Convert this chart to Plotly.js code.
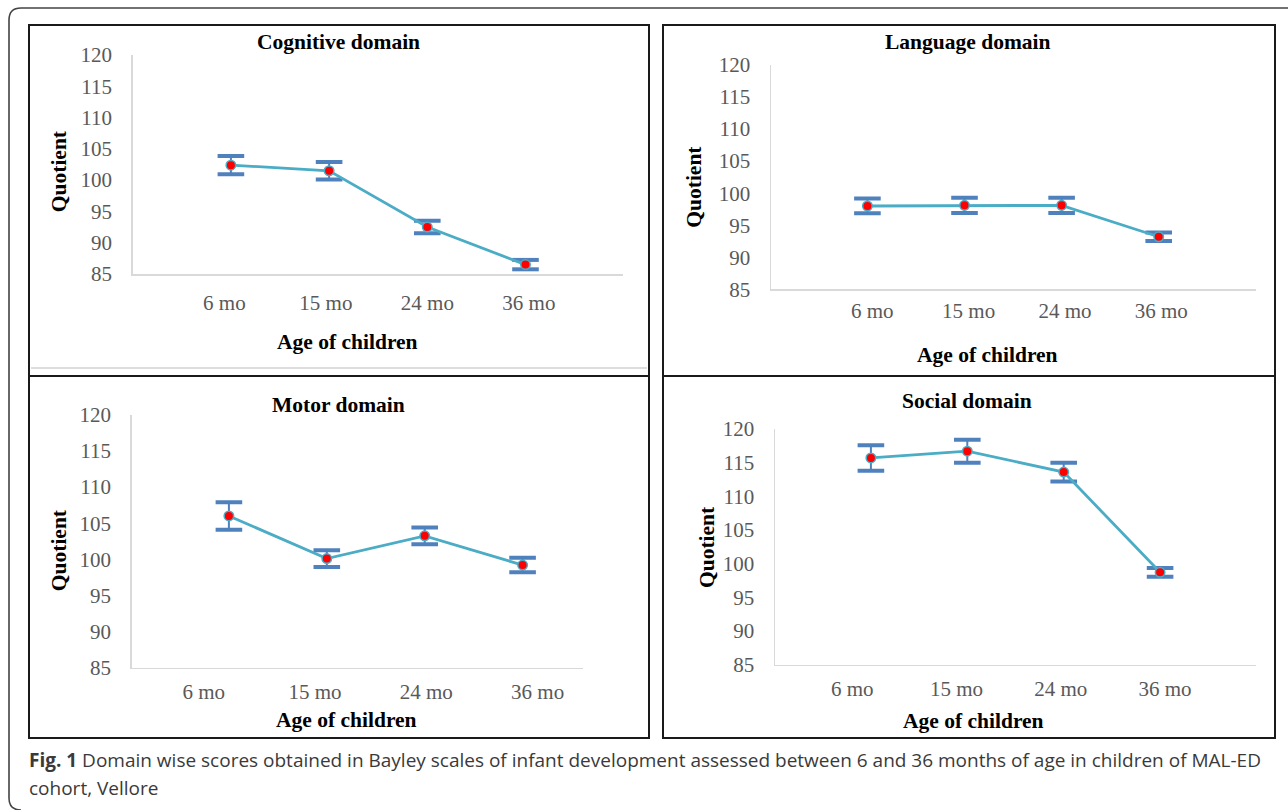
<!DOCTYPE html>
<html><head><meta charset="utf-8">
<script src="https://cdn.plot.ly/plotly-3.0.1.min.js"></script>
<style>html,body{margin:0;padding:0;background:#fff;} #chart{width:1288px;height:810px;}</style>
</head><body><div id="chart"></div>
<script>
// ---------- data ----------
const categories = ['6 mo', '15 mo', '24 mo', '36 mo'];
const yTickVals = [85, 90, 95, 100, 105, 110, 115, 120];

const cognitiveMean = [102.4, 101.5, 92.5, 86.5];
const cognitiveErr  = [1.45, 1.4, 1.0, 0.75];
const languageMean  = [98.0, 98.1, 98.1, 93.2];
const languageErr   = [1.15, 1.2, 1.2, 0.65];
const motorMean     = [106.0, 100.1, 103.25, 99.2];
const motorErr      = [1.9, 1.15, 1.15, 1.0];
const socialMean    = [115.7, 116.7, 113.6, 98.7];
const socialErr     = [1.9, 1.7, 1.4, 0.65];

const domainTitles = ['Cognitive domain', 'Language domain', 'Motor domain', 'Social domain'];
const xTitle = 'Age of children';
const yTitle = 'Quotient';
const captionBold = 'Fig. 1';
const captionLine1 = ' Domain wise scores obtained in Bayley scales of infant development assessed between 6 and 36 months of age in children of MAL-ED';
const captionLine2 = 'cohort, Vellore';

// ---------- layout helpers ----------
const W = 1288, H = 810;
const fx = p => p / W;
const fy = p => 1 - p / H;

const panels = [
  {mean: cognitiveMean, err: cognitiveErr, xd: [132.8, 623], yd: [55, 274],
   xr: [-0.999, 3.993], lr: [-0.902, 3.927], lstand: 14,
   title: [338, 41.7], xt: [347.5, 342], yt: [58.5, 171.7]},
  {mean: languageMean, err: languageErr, xd: [771, 1256], yd: [65, 289.3],
   xr: [-0.993, 4.002], lr: [-1.052, 3.984], lstand: 7,
   title: [968, 41.7], xt: [987.6, 355], yt: [694, 186.7]},
  {mean: motorMean, err: motorErr, xd: [131.6, 582.8], yd: [414.9, 667.6],
   xr: [-0.994, 3.615], lr: [-0.648, 3.406], lstand: 9,
   title: [338.4, 404.7], xt: [346, 720], yt: [58.5, 550.7]},
  {mean: socialMean, err: socialErr, xd: [775, 1256], yd: [429, 664.5],
   xr: [-0.995, 3.995], lr: [-0.740, 3.872], lstand: 9,
   title: [967, 401.4], xt: [973, 721.3], yt: [707, 547]}
];

const serif = 'Liberation Serif, Times New Roman, serif';
const errColor = '#4F81BD';
const lineColor = '#4BACC6';

const data = [];
const layout = {
  width: W, height: H, autosize: false,
  margin: {l: 0, r: 0, t: 0, b: 0, pad: 0},
  paper_bgcolor: '#ffffff', plot_bgcolor: 'rgba(0,0,0,0)',
  showlegend: false,
  annotations: [], shapes: []
};

panels.forEach((p, i) => {
  const k = i + 1;
  const lk = i + 5;
  const xa = 'x' + k, ya = 'y' + k, la = 'x' + lk;

  // caps of error bars
  data.push({
    type: 'scatter', mode: 'markers', xaxis: xa, yaxis: ya, hoverinfo: 'skip',
    x: categories.concat(categories),
    y: p.mean.map((m, j) => m + p.err[j]).concat(p.mean.map((m, j) => m - p.err[j])),
    marker: {symbol: 'line-ew', size: 19, color: errColor, line: {color: errColor, width: 4}}
  });
  // main series with error stems
  data.push({
    type: 'scatter', mode: 'lines+markers', xaxis: xa, yaxis: ya,
    x: categories, y: p.mean,
    error_y: {type: 'data', array: p.err, visible: true, color: errColor, thickness: 2, width: 0},
    line: {color: lineColor, width: 2.8},
    marker: {color: '#FF0000', size: 9.5, line: {color: lineColor, width: 1.5}}
  });
  // invisible trace registering label axis
  data.push({
    type: 'scatter', mode: 'none', xaxis: la, yaxis: ya, hoverinfo: 'skip',
    x: [0, 1, 2, 3], y: p.mean
  });

  layout['xaxis' + k] = {
    type: 'category', domain: [fx(p.xd[0]), fx(p.xd[1])], anchor: ya,
    range: p.xr, showline: true, linecolor: '#D9D9D9', linewidth: 1.5,
    showticklabels: false, ticks: '', showgrid: false, zeroline: false, fixedrange: true
  };
  layout['xaxis' + lk] = {
    type: 'linear', overlaying: xa, anchor: ya, side: 'bottom',
    range: p.lr, tickvals: [0, 1, 2, 3], ticktext: categories,
    showline: false, showgrid: false, zeroline: false, ticks: '',
    ticklabelstandoff: p.lstand,
    tickfont: {family: serif, size: 21, color: '#595959'}, fixedrange: true
  };
  layout['yaxis' + k] = {
    domain: [fy(p.yd[1]), fy(p.yd[0])], anchor: xa,
    range: [85, 120], tickvals: yTickVals, ticktext: yTickVals.map(String),
    showline: true, linecolor: '#D9D9D9', linewidth: 1.5,
    showgrid: false, zeroline: false, ticks: '', ticklabelstandoff: 15,
    tickfont: {family: serif, size: 21, color: '#595959'}, fixedrange: true
  };

  layout.annotations.push(
    {text: '<b>' + domainTitles[i] + '</b>', xref: 'paper', yref: 'paper',
     x: fx(p.title[0]), y: fy(p.title[1]), xanchor: 'center', yanchor: 'middle',
     showarrow: false, font: {family: serif, size: 21.5, color: '#000'}},
    {text: '<b>' + xTitle + '</b>', xref: 'paper', yref: 'paper',
     x: fx(p.xt[0]), y: fy(p.xt[1]), xanchor: 'center', yanchor: 'middle',
     showarrow: false, font: {family: serif, size: 21.5, color: '#000'}},
    {text: '<b>' + yTitle + '</b>', xref: 'paper', yref: 'paper', textangle: -90,
     x: fx(p.yt[0]), y: fy(p.yt[1]), xanchor: 'center', yanchor: 'middle',
     showarrow: false, font: {family: serif, size: 21.5, color: '#000'}}
  );
});

// caption
layout.annotations.push(
  {text: '<b>' + captionBold + '</b>' + captionLine1, xref: 'paper', yref: 'paper',
   x: fx(27), y: fy(760), xanchor: 'left', yanchor: 'middle', showarrow: false,
   font: {family: 'Open Sans, sans-serif', size: 19, color: '#3a3a3a'}},
  {text: captionLine2, xref: 'paper', yref: 'paper',
   x: fx(27), y: fy(788), xanchor: 'left', yanchor: 'middle', showarrow: false,
   font: {family: 'Open Sans, sans-serif', size: 19, color: '#3a3a3a'}}
);

// frames
const frame = {type: 'rect', xref: 'paper', yref: 'paper', line: {color: '#1a1a1a', width: 2}, fillcolor: 'rgba(0,0,0,0)'};
[[29, 25, 649, 376], [663, 25, 1275, 376], [29, 376, 649, 738], [663, 376, 1275, 738]].forEach(r => {
  layout.shapes.push(Object.assign({}, frame, {x0: fx(r[0]), y0: fy(r[3]), x1: fx(r[2]), y1: fy(r[1])}));
});
layout.shapes.push({type: 'line', xref: 'paper', yref: 'paper', x0: fx(31), x1: fx(647), y0: fy(368), y1: fy(368),
  line: {color: '#DDDDDD', width: 2}});
const P = (x, y) => fx(x).toFixed(5) + ',' + fy(y).toFixed(5);
layout.shapes.push({type: 'path', xref: 'paper', yref: 'paper',
  path: 'M' + P(1300, 8) + ' L' + P(21, 8) + ' Q' + P(9, 8) + ' ' + P(9, 20) + ' L' + P(9, 798) + ' Q' + P(9, 810) + ' ' + P(21, 810),
  line: {color: '#444444', width: 1.6}});

Plotly.newPlot('chart', data, layout, {displayModeBar: false, staticPlot: true});
</script>
</body></html>
